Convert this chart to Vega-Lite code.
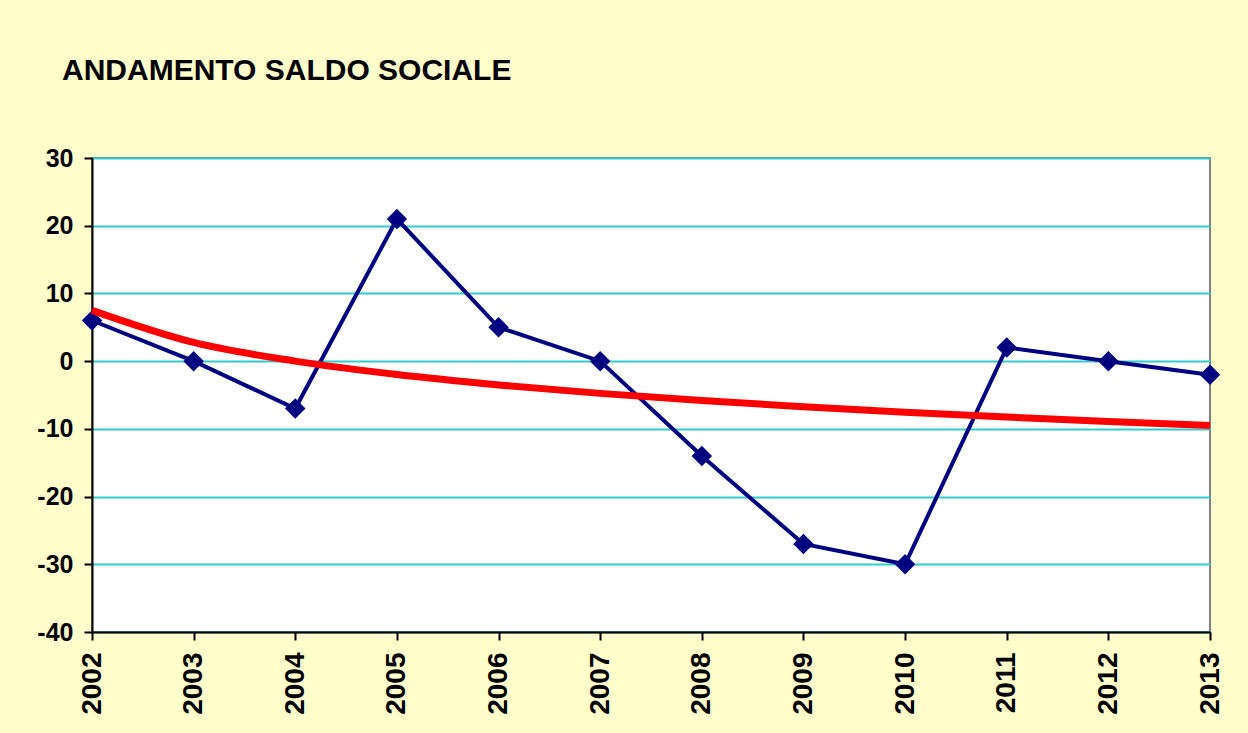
{
  "$schema": "https://vega.github.io/schema/vega-lite/v6.json",
  "autosize": {"type": "none"},
  "width": 1118,
  "height": 474,
  "padding": {"left": 92, "top": 158, "right": 38, "bottom": 101},
  "background": "#FFFFCC",
  "title": {
    "text": "ANDAMENTO SALDO SOCIALE",
    "anchor": "start",
    "frame": "group",
    "orient": "top",
    "baseline": "alphabetic",
    "offset": 36,
    "dx": -30,
    "font": "Liberation Sans",
    "fontSize": 30,
    "fontWeight": "bold",
    "color": "#000000"
  },
  "config": {
    "view": {"fill": "#FFFFFF", "stroke": "#808080", "strokeWidth": 2},
    "axis": {
      "labelFont": "Liberation Sans",
      "labelFontWeight": "bold",
      "labelColor": "#000000",
      "domainColor": "#000000",
      "domainWidth": 2,
      "tickColor": "#000000",
      "tickWidth": 2,
      "tickSize": 8,
      "titleFontSize": 0
    }
  },
  "datasets": {
    "saldo": [
      {"anno": 2002, "saldo": 6},
      {"anno": 2003, "saldo": 0},
      {"anno": 2004, "saldo": -7},
      {"anno": 2005, "saldo": 21},
      {"anno": 2006, "saldo": 5},
      {"anno": 2007, "saldo": 0},
      {"anno": 2008, "saldo": -14},
      {"anno": 2009, "saldo": -27},
      {"anno": 2010, "saldo": -30},
      {"anno": 2011, "saldo": 2},
      {"anno": 2012, "saldo": 0},
      {"anno": 2013, "saldo": -2}
    ],
    "trend": [
      {"anno": 2002, "trend": 7.5},
      {"anno": 2003, "trend": 2.76},
      {"anno": 2004, "trend": 0.0},
      {"anno": 2005, "trend": -1.98},
      {"anno": 2006, "trend": -3.51},
      {"anno": 2007, "trend": -4.76},
      {"anno": 2008, "trend": -5.81},
      {"anno": 2009, "trend": -6.72},
      {"anno": 2010, "trend": -7.53},
      {"anno": 2011, "trend": -8.25},
      {"anno": 2012, "trend": -8.9},
      {"anno": 2013, "trend": -9.5}
    ]
  },
  "layer": [
    {
      "data": {"name": "saldo"},
      "mark": {"type": "line", "color": "#000080", "strokeWidth": 4, "point": {"shape": "diamond", "size": 420, "filled": true, "color": "#000080", "opacity": 1}},
      "encoding": {
        "x": {
          "field": "anno", "type": "quantitative", "title": null,
          "scale": {"domain": [2002, 2013], "nice": false, "zero": false},
          "axis": {
            "values": [2002, 2003, 2004, 2005, 2006, 2007, 2008, 2009, 2010, 2011, 2012, 2013],
            "format": "d", "grid": false, "labelAngle": -90, "labelAlign": "right", "labelBaseline": "middle",
            "labelFontSize": 28, "labelPadding": 12
          }
        },
        "y": {
          "field": "saldo", "type": "quantitative", "title": null,
          "scale": {"domain": [-40, 30], "nice": false, "zero": false},
          "axis": {
            "values": [-40, -30, -20, -10, 0, 10, 20, 30],
            "labelExpr": "toString(datum.value)",
            "grid": true, "gridColor": "#33CCCC", "gridWidth": 2, "gridOpacity": 1,
            "labelFontSize": 25, "labelPadding": 11
          }
        }
      }
    },
    {
      "data": {"name": "trend"},
      "mark": {"type": "line", "color": "#FF0000", "strokeWidth": 7, "interpolate": "monotone"},
      "encoding": {
        "x": {"field": "anno", "type": "quantitative"},
        "y": {"field": "trend", "type": "quantitative"}
      }
    }
  ]
}
